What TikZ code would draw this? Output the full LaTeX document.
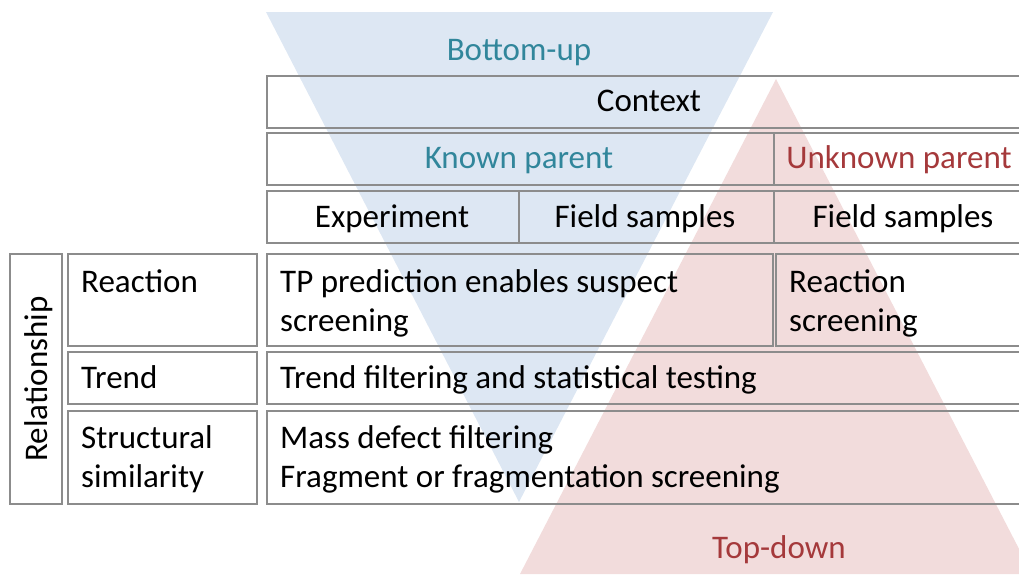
\documentclass[tikz,border=0pt]{standalone}
\usepackage{fontspec}
\setmainfont{Carlito}
\definecolor{bluefill}{HTML}{DDE7F3}
\definecolor{redfill}{HTML}{F2DCDC}
\definecolor{bucol}{HTML}{31869B}
\definecolor{tdcol}{HTML}{A5393B}
\definecolor{linegray}{HTML}{8C8C8C}
\tikzset{
  cellbox/.style={draw=linegray, line width=1.8pt, inner sep=0pt, anchor=north west},
  txt/.style={inner sep=0pt, font=\fontsize{33}{39}\selectfont},
  lefttxt/.style={txt, anchor=base west, align=left},
  ctrtxt/.style={txt, anchor=base},
}
\begin{document}
\begin{tikzpicture}[x=1pt,y=-1pt]
\useasboundingbox (0,0) rectangle (1019,574);
\clip (0,0) rectangle (1019,574);
% triangles
\fill[bluefill] (266,12) -- (773,12) -- (519,502) -- cycle;
\fill[redfill] (776,79) -- (1032,574) -- (520,574) -- cycle;
% header boxes
\node[cellbox, minimum width=764pt, minimum height=52pt] (ctx) at (266,75) {};
\node[cellbox, minimum width=507pt, minimum height=52pt] (kp) at (266,132) {};
\node[cellbox, minimum width=257pt, minimum height=52pt] (up) at (773,132) {};
\node[cellbox, minimum width=252pt, minimum height=52pt] (exp) at (266,190) {};
\node[cellbox, minimum width=255pt, minimum height=52pt] (fs1) at (518,190) {};
\node[cellbox, minimum width=257pt, minimum height=52pt] (fs2) at (773,190) {};
% body boxes
\node[cellbox, minimum width=52pt, minimum height=250pt] (rel) at (9,253) {};
\node[cellbox, minimum width=189pt, minimum height=92pt] (reaL) at (67,253) {};
\node[cellbox, minimum width=506pt, minimum height=92pt] (reaC) at (266,253) {};
\node[cellbox, minimum width=255pt, minimum height=92pt] (reaR) at (775,253) {};
\node[cellbox, minimum width=189pt, minimum height=52pt] (trL) at (67,351) {};
\node[cellbox, minimum width=764pt, minimum height=52pt] (trC) at (266,351) {};
\node[cellbox, minimum width=189pt, minimum height=93pt] (stL) at (67,410) {};
\node[cellbox, minimum width=764pt, minimum height=93pt] (stC) at (266,410) {};
% header texts
\node[ctrtxt, text=bucol] (bu) at (519,60) {Bottom-up};
\node[ctrtxt] (ctxt) at (649,111) {Context};
\node[ctrtxt, text=bucol] (kpt) at (519,168) {Known parent};
\node[ctrtxt, text=tdcol] (upt) at (899,168) {Unknown parent};
\node[ctrtxt] (expt) at (392,227) {Experiment};
\node[ctrtxt] (fs1t) at (645,227) {Field samples};
\node[ctrtxt] (fs2t) at (903,227) {Field samples};
\node[ctrtxt, text=tdcol] (td) at (779,558) {Top-down};
% row texts
\node[txt, rotate=90, anchor=base] (relt) at (47,379) {Relationship};
\node[lefttxt] (reaLt) at (81,292) {Reaction};
\node[lefttxt] (reaCt) at (280,331) {TP prediction enables suspect\\screening};
\node[lefttxt] (reaRt) at (789,331) {Reaction\\screening};
\node[lefttxt] (trLt) at (81,388) {Trend};
\node[lefttxt] (trCt) at (280,388) {Trend filtering and statistical testing};
\node[lefttxt] (stLt) at (81,487) {Structural\\similarity};
\node[lefttxt] (stCt) at (280,487) {Mass defect filtering\\Fragment or fragmentation screening};
\end{tikzpicture}
\end{document}
